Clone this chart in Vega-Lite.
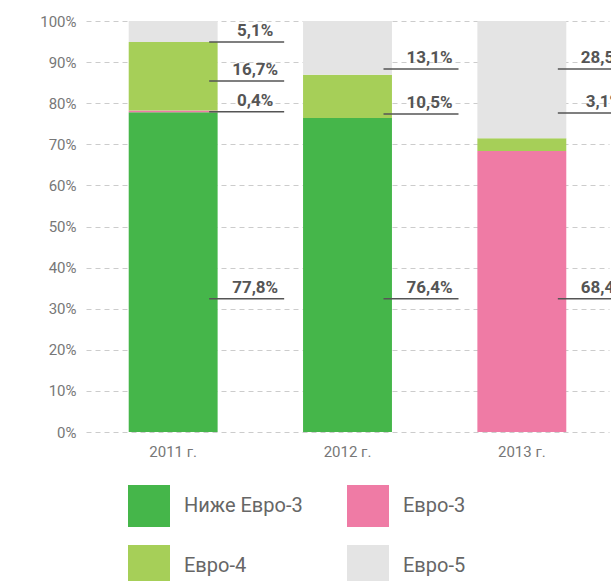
{
  "$schema": "https://vega.github.io/schema/vega-lite/v6.json",
  "autosize": "none",
  "width": 523,
  "height": 411,
  "padding": {"left": 86, "top": 21, "right": 30, "bottom": 149},
  "data": {
    "values": [
      {"year": "2011 г.", "cls": "Ниже Евро-3", "value": 77.8, "label": "77,8%", "labelAt": 32.4},
      {"year": "2011 г.", "cls": "Евро-3", "value": 0.4, "label": "0,4%", "labelAt": 77.9},
      {"year": "2011 г.", "cls": "Евро-4", "value": 16.7, "label": "16,7%", "labelAt": 85.4},
      {"year": "2011 г.", "cls": "Евро-5", "value": 5.1, "label": "5,1%", "labelAt": 94.9},
      {"year": "2012 г.", "cls": "Ниже Евро-3", "value": 76.4, "label": "76,4%", "labelAt": 32.4},
      {"year": "2012 г.", "cls": "Евро-4", "value": 10.5, "label": "10,5%", "labelAt": 77.4},
      {"year": "2012 г.", "cls": "Евро-5", "value": 13.1, "label": "13,1%", "labelAt": 88.3},
      {"year": "2013 г.", "cls": "Евро-3", "value": 68.4, "label": "68,4%", "labelAt": 32.4},
      {"year": "2013 г.", "cls": "Евро-4", "value": 3.1, "label": "3,1%", "labelAt": 77.6},
      {"year": "2013 г.", "cls": "Евро-5", "value": 28.5, "label": "28,5%", "labelAt": 88.3}
    ]
  },
  "transform": [
    {"calculate": "indexof(['Ниже Евро-3', 'Евро-3', 'Евро-4', 'Евро-5'], datum.cls)", "as": "stackRank"}
  ],
  "encoding": {
    "x": {
      "field": "year",
      "type": "nominal",
      "scale": {"paddingInner": 0.49, "paddingOuter": 0.245},
      "axis": {
        "title": null,
        "labelAngle": 0,
        "domain": false,
        "ticks": false,
        "labelPadding": 12,
        "labelFont": "Roboto",
        "labelFontSize": 15,
        "labelColor": "#777777"
      }
    }
  },
  "layer": [
    {
      "mark": {"type": "bar"},
      "encoding": {
        "y": {
          "field": "value",
          "type": "quantitative",
          "stack": "zero",
          "scale": {"domain": [0, 100], "nice": false},
          "axis": {
            "title": null,
            "values": [0, 10, 20, 30, 40, 50, 60, 70, 80, 90, 100],
            "labelExpr": "datum.value + '%'",
            "domain": false,
            "ticks": false,
            "labelPadding": 10,
            "labelFont": "Roboto",
            "labelFontSize": 15,
            "labelColor": "#777777",
            "grid": true,
            "gridColor": "#cccccc",
            "gridDash": [5, 4],
            "gridWidth": 1
          }
        },
        "order": {"field": "stackRank", "type": "quantitative", "sort": "ascending"},
        "color": {
          "field": "cls",
          "type": "nominal",
          "scale": {
            "domain": ["Ниже Евро-3", "Евро-3", "Евро-4", "Евро-5"],
            "range": ["#45b64a", "#ef7ba5", "#a6cf58", "#e4e4e4"]
          },
          "legend": {
            "title": null,
            "values": ["Ниже Евро-3", "Евро-4", "Евро-3", "Евро-5"],
            "orient": "none",
            "legendX": 42,
            "legendY": 464,
            "columns": 2,
            "columnPadding": 44,
            "rowPadding": 18,
            "padding": 0,
            "symbolType": "square",
            "symbolSize": 1764,
            "symbolStrokeWidth": 0,
            "symbolOpacity": 1,
            "labelOffset": 14,
            "labelFont": "Roboto",
            "labelFontSize": 20,
            "labelColor": "#666666",
            "labelLimit": 300
          }
        }
      }
    },
    {
      "mark": {"type": "rule", "color": "#555555", "strokeWidth": 1.5, "xOffset": 36, "x2Offset": 111},
      "encoding": {
        "y": {"field": "labelAt", "type": "quantitative"},
        "x2": {"field": "year"}
      }
    },
    {
      "mark": {
        "type": "text",
        "font": "Roboto",
        "fontSize": 17,
        "fontWeight": "bold",
        "color": "#555555",
        "align": "center",
        "baseline": "alphabetic",
        "dx": 82,
        "dy": -6
      },
      "encoding": {
        "y": {"field": "labelAt", "type": "quantitative"},
        "text": {"field": "label"}
      }
    }
  ],
  "config": {"view": {"stroke": null}}
}
